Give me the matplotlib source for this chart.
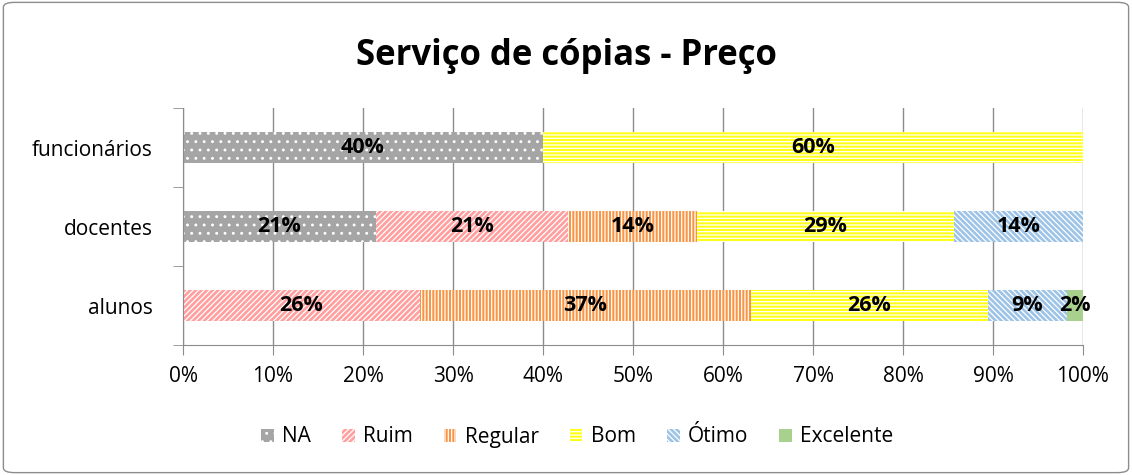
import matplotlib.pyplot as plt
import numpy as np
from matplotlib.patches import FancyBboxPatch

plt.rcParams['font.family'] = ['Open Sans', 'DejaVu Sans']
plt.rcParams['hatch.linewidth'] = 0.9

categorias = ['alunos', 'docentes', 'funcionários']
series = ['NA', 'Ruim', 'Regular', 'Bom', 'Ótimo', 'Excelente']
valores = {
    'NA':        [0.0, 21.4, 40.0],
    'Ruim':      [26.3, 21.4, 0.0],
    'Regular':   [36.8, 14.3, 0.0],
    'Bom':       [26.3, 28.6, 60.0],
    'Ótimo':     [8.8, 14.3, 0.0],
    'Excelente': [1.8, 0.0, 0.0],
}
cores = ['#A5A5A5', '#FF9F9F', '#F79646', '#FFFF1A', '#9DC3E6', '#A9D18E']
hachuras = ['..', '//////', '|||||', '-----', '\\\\\\\\\\\\', '']
xticks = np.arange(0, 101, 10)

fig = plt.figure(figsize=(11.32, 4.75), dpi=100)
ax = fig.add_axes([183 / 1132, 1 - 345 / 475, 900 / 1132, 237 / 475])

# moldura do gráfico
fig.patches.append(FancyBboxPatch((0.003, 0.005), 0.994, 0.99, boxstyle='round,pad=0,rounding_size=0.01',
                                  transform=fig.transFigure, fill=False, ec='#8c8c8c', lw=1))

y = np.arange(len(categorias))
esquerda = np.zeros(len(categorias))
for s, cor, h in zip(series, cores, hachuras):
    v = np.array(valores[s])
    ax.barh(y, v, left=esquerda, height=0.38, color=cor, hatch=h, edgecolor='white',
            linewidth=0, label=s, zorder=2)
    for yi, vi, li in zip(y, v, esquerda):
        if vi > 0:
            ax.text(li + vi / 2, yi, f'{vi:.0f}%', ha='center', va='center',
                    fontsize=15.5, fontweight='bold', color='black', zorder=3)
    esquerda += v

ax.set_xlim(0, 100)
ax.set_ylim(-0.5, 2.5)
ax.set_xticks(xticks)
ax.set_xticklabels([f'{t}%' for t in xticks], fontsize=15)
ax.set_yticks(y)
ax.set_yticklabels(categorias, fontsize=15)
ax.set_yticks([-0.5, 0.5, 1.5, 2.5], minor=True)
ax.tick_params(axis='y', which='major', length=0, pad=22)
ax.tick_params(axis='y', which='minor', length=7, color='#8c8c8c', direction='out')
ax.tick_params(axis='x', length=7, color='#8c8c8c', pad=8)
ax.grid(axis='x', color='#8c8c8c', lw=1, zorder=0)
for sp in ['top', 'right']:
    ax.spines[sp].set_visible(False)
for sp in ['left', 'bottom']:
    ax.spines[sp].set_color('#8c8c8c')

fig.suptitle('Serviço de cópias - Preço', fontsize=25, fontweight='bold', y=0.92)
fig.legend(loc='center', bbox_to_anchor=(0.51, 1 - 437 / 475), ncol=6, frameon=False,
           fontsize=15, handlelength=0.6, handleheight=0.6, columnspacing=1.5, handletextpad=0.4)

fig.savefig('out.png', dpi=100)
